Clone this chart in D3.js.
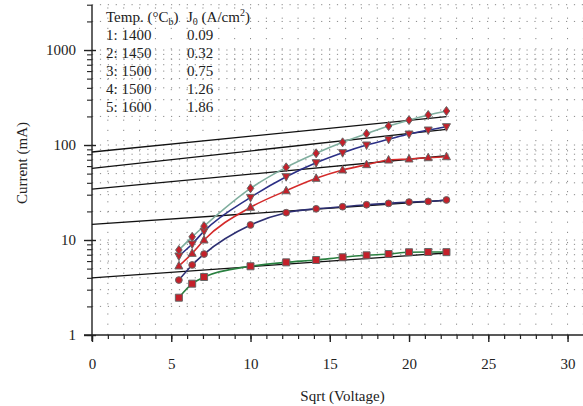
<!DOCTYPE html>
<html>
<head>
<meta charset="utf-8">
<script src="https://cdn.jsdelivr.net/npm/d3@7"></script>
<style>
  body { margin: 0; background: #fff; }
  text { font-family: "Liberation Serif", "DejaVu Serif", serif; fill: #222; }
</style>
</head>
<body>
<script>
//////////////// Datas ////////////////////
var sqrtV = [5.48, 6.32, 7.07, 10, 12.25, 14.14, 15.81, 17.32, 18.71, 20, 21.21, 22.36];

var cur1 = [2.47, 3.47, 4.08, 5.29, 5.82, 6.16, 6.58, 6.9, 7.12, 7.43, 7.48, 7.45];
var cur2 = [3.79, 5.46, 7.12, 14.4, 19.4, 21.3, 22.4, 23.5, 24.3, 25.1, 25.5, 26.4];
var cur3 = [5.33, 7.24, 10, 22.1, 33, 44.6, 54.6, 62.1, 69.5, 71.3, 73.5, 75.3];
var cur4 = [6.79, 9.08, 12.4, 28.1, 46.4, 65.1, 83, 100, 114.8, 130.5, 143.8, 155.9];
var cur5 = [7.85, 10.8, 14, 35, 58.2, 81.8, 106.7, 131.5, 158.5, 183, 207, 228];

// straight fit lines: value at sqrt(V)=0 and at the last point
var fitX = [0, 22.36];
var fitStart = [4.0, 14.6, 34.4, 56.9, 84.4];
var fitEnd = [7.3, 26.2, 77.1, 146, 198.6];

var legendHead = ["Temp. (°C", "J", "(A/cm"];
var legendTemp = ["1: 1400", "2: 1450", "3: 1500", "4: 1500", "5: 1600"];
var legendJ0 = ["0.09", "0.32", "0.75", "1.26", "1.86"];

var xTicks = [0, 5, 10, 15, 20, 25, 30];
var yTicks = [1, 10, 100, 1000];

var series = [cur1, cur2, cur3, cur4, cur5];
var lineColors = ["#2a8040", "#2d2f72", "#d42a2a", "#2b2f86", "#7fae9e"];
var shapes = ["square", "circle", "up", "down", "diamond"];

var width = 583, height = 406;
var fs = "15px";

////////////////// Scaling ////////////
var xScale = d3.scaleLinear().domain([0, 31]).range([92, 583.4]);
var yScale = d3.scaleLog().domain([1, 3000]).range([335, 4.7]);

var svg = d3.select("body").append("svg")
  .attr("width", width)
  .attr("height", height);

//////////////// Grid ////////////////////
var yMinor = [];
[1, 10, 100, 1000].forEach(function(d){
  for (var k = 1; k <= 9; k++) {
    if (d * k <= 3000) yMinor.push(d * k);
  }
});
var grid = svg.append("g").attr("class", "grid");
grid.selectAll("line.h")
  .data(yMinor.filter(function(d){ return d > 1; }))
  .enter().append("line")
  .attr("class", "h")
  .attr("x1", xScale(0)).attr("x2", width)
  .attr("y1", function(d){ return yScale(d); })
  .attr("y2", function(d){ return yScale(d); })
  .style("stroke", "#8a8a8a")
  .style("stroke-width", 1)
  .style("stroke-dasharray", "1.2,6.7");
grid.selectAll("line.v")
  .data(d3.range(1, 32))
  .enter().append("line")
  .attr("class", "v")
  .attr("x1", function(d){ return xScale(d); })
  .attr("x2", function(d){ return xScale(d); })
  .attr("y1", yScale(1)).attr("y2", yScale(3000))
  .style("stroke", "#8a8a8a")
  .style("stroke-width", 1)
  .style("stroke-dasharray", "1.2,9");

//////////// Axen /////////////
var xAxis = d3.axisBottom(xScale).tickValues(d3.range(0, 32)).tickSize(4).tickFormat("");
svg.append("g")
  .attr("transform", "translate(0," + yScale(1) + ")")
  .call(xAxis)
  .call(function(g){
    g.select(".domain").attr("d", "M" + (xScale(0) - 8) + ",0H" + width).style("stroke", "#222").style("stroke-width", 1.4);
    g.selectAll(".tick line").style("stroke", "#222").style("stroke-width", 1.2);
  });
var xMajor = d3.axisBottom(xScale).tickValues(xTicks).tickSize(7).tickPadding(16);
svg.append("g")
  .attr("transform", "translate(0," + yScale(1) + ")")
  .call(xMajor)
  .call(function(g){
    g.select(".domain").remove();
    g.selectAll(".tick line").style("stroke", "#222").style("stroke-width", 1.4);
    g.selectAll(".tick text").style("font-size", fs).style("font-family", "Liberation Serif, serif").style("fill", "#222");
  });

var yAxisMinor = d3.axisLeft(yScale).tickValues(yMinor).tickSize(5).tickFormat("");
svg.append("g")
  .attr("transform", "translate(" + xScale(0) + ",0)")
  .call(yAxisMinor)
  .call(function(g){
    g.select(".domain").attr("d", "M0," + (yScale(1) + 6) + "V" + yScale(3000)).style("stroke", "#222").style("stroke-width", 1.4);
    g.selectAll(".tick line").style("stroke", "#222").style("stroke-width", 1.1);
  });
var yAxisMajor = d3.axisLeft(yScale).tickValues(yTicks).tickSize(8).tickPadding(8)
  .tickFormat(function(d){ return d; });
svg.append("g")
  .attr("transform", "translate(" + xScale(0) + ",0)")
  .call(yAxisMajor)
  .call(function(g){
    g.select(".domain").remove();
    g.selectAll(".tick line").attr("x2", -8).attr("x1", 4).style("stroke", "#222").style("stroke-width", 1.4);
    g.selectAll(".tick text").style("font-size", fs).style("font-family", "Liberation Serif, serif").style("fill", "#222");
  });

svg.append("text")
  .attr("x", (xScale(0) + width) / 2 + 5)
  .attr("y", 401)
  .attr("text-anchor", "middle")
  .style("font-size", fs)
  .text("Sqrt (Voltage)");
svg.append("text")
  .attr("transform", "translate(27,163) rotate(-90)")
  .attr("text-anchor", "middle")
  .style("font-size", fs)
  .text("Current (mA)");

//////////////// Fit lines ////////////////
svg.selectAll("line.fit")
  .data(fitStart)
  .enter().append("line")
  .attr("class", "fit")
  .attr("x1", xScale(fitX[0]))
  .attr("x2", xScale(fitX[1]))
  .attr("y1", function(d){ return yScale(d); })
  .attr("y2", function(d, i){ return yScale(fitEnd[i]); })
  .style("stroke", "#111")
  .style("stroke-width", 1.3);

//////////////// Curves ////////////////
var curve = d3.line()
  .x(function(d, i){ return xScale(sqrtV[i]); })
  .y(function(d){ return yScale(d); })
  .curve(d3.curveMonotoneX);

svg.selectAll("path.curve")
  .data(series)
  .enter().append("path")
  .attr("class", "curve")
  .attr("d", curve)
  .attr("fill", "none")
  .style("stroke", function(d, i){ return lineColors[i]; })
  .style("stroke-width", 1.6);

//////////////// Marker ////////////////
function markerPath(shape) {
  if (shape === "square") return "M-3.5,-3.5H3.5V3.5H-3.5Z";
  if (shape === "circle") return d3.symbol(d3.symbolCircle, 36)();
  if (shape === "up") return "M0,-4.5L4,3H-4Z";
  if (shape === "down") return "M0,4.5L4,-3H-4Z";
  return "M0,-4.5L3.3,0L0,4.5L-3.3,0Z";
}

series.forEach(function(vals, s){
  svg.selectAll("path.m" + s)
    .data(vals)
    .enter().append("path")
    .attr("class", "m" + s)
    .attr("d", markerPath(shapes[s]))
    .attr("transform", function(d, i){
      return "translate(" + xScale(sqrtV[i]) + "," + yScale(d) + ")";
    })
    .style("fill", "#c4202a")
    .style("stroke", "#666")
    .style("stroke-width", 1);
});

//////////////// Legende ////////////////
var leg = svg.append("g").attr("transform", "translate(106,0)");
var head = leg.append("text").attr("x", 0).attr("y", 22).style("font-size", fs);
head.append("tspan").text(legendHead[0]);
head.append("tspan").attr("dy", 3).style("font-size", "10px").text("b");
head.append("tspan").attr("dy", -3).text(")");
var head2 = leg.append("text").attr("x", 81).attr("y", 22).style("font-size", fs);
head2.append("tspan").text(legendHead[1]);
head2.append("tspan").attr("dy", 3).style("font-size", "10px").text("0");
head2.append("tspan").attr("dy", -3).text(" " + legendHead[2]);
head2.append("tspan").attr("dy", -6).style("font-size", "10px").text("2");
head2.append("tspan").attr("dy", 6).text(")");

leg.selectAll("text.t")
  .data(legendTemp)
  .enter().append("text")
  .attr("class", "t")
  .attr("x", 0)
  .attr("y", function(d, i){ return 40 + i * 18; })
  .style("font-size", fs)
  .text(function(d){ return d; });
leg.selectAll("text.j")
  .data(legendJ0)
  .enter().append("text")
  .attr("class", "j")
  .attr("x", 81)
  .attr("y", function(d, i){ return 40 + i * 18; })
  .style("font-size", fs)
  .text(function(d){ return d; });
</script>
</body>
</html>
